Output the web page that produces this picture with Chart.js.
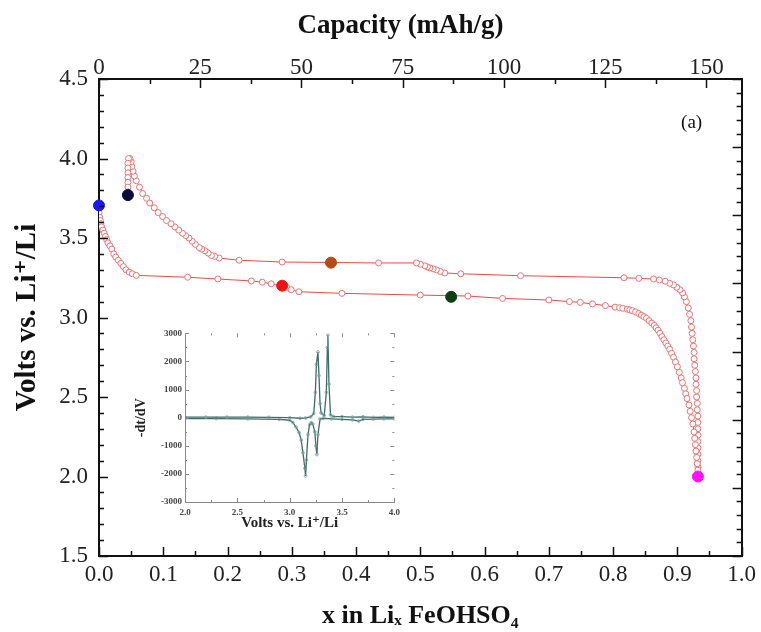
<!DOCTYPE html>
<html>
<head>
<meta charset="utf-8">
<script src="https://cdn.jsdelivr.net/npm/chart.js@4.4.1/dist/chart.umd.min.js"></script>
<style>
  html, body { margin: 0; padding: 0; background: #fff; }
  #wrap { position: relative; width: 761px; height: 632px; }
  #mainChart { position: absolute; left: 0; top: 0; }
  #insetChart { position: absolute; left: 125px; top: 325px; }
</style>
</head>
<body>
<div id="wrap">
  <canvas id="mainChart" width="761" height="632"></canvas>
  <canvas id="insetChart" width="280" height="215"></canvas>
</div>
<script>
const SERIF = '"Liberation Serif", "DejaVu Serif", serif';

// --- Hauptdiagramm: x in LixFeOHSO4 gegen Spannung ---
const CAP_AT_X1 = 158.7; // mAh/g bei x = 1

// Entladung (untere Kurve, von x=0 bis zum magenta Punkt)
const dischargeX = [0.000, 0.001, 0.002, 0.003, 0.004, 0.006, 0.008, 0.010, 0.012, 0.014,
  0.017, 0.020, 0.023, 0.026, 0.030, 0.034, 0.038, 0.042, 0.047, 0.052,
  0.058, 0.138, 0.185, 0.237, 0.254, 0.268, 0.292, 0.299, 0.311, 0.378,
  0.500, 0.574, 0.628, 0.700, 0.732, 0.749, 0.768, 0.788, 0.803, 0.810,
  0.815, 0.822, 0.826, 0.830, 0.835, 0.840, 0.844, 0.848, 0.852, 0.856,
  0.860, 0.864, 0.867, 0.870, 0.873, 0.876, 0.879, 0.882, 0.885, 0.888,
  0.891, 0.894, 0.897, 0.900, 0.903, 0.906, 0.908, 0.911, 0.913, 0.915,
  0.918, 0.920, 0.922, 0.924, 0.926, 0.927, 0.928, 0.929, 0.930, 0.931,
  0.932];
const dischargeV = [3.66, 3.63, 3.61, 3.59, 3.57, 3.55, 3.53, 3.51, 3.49, 3.47,
  3.45, 3.43, 3.40, 3.38, 3.36, 3.34, 3.32, 3.30, 3.285, 3.275,
  3.265, 3.253, 3.242, 3.23, 3.222, 3.212, 3.19, 3.175, 3.162, 3.152,
  3.141, 3.135, 3.12, 3.11, 3.10, 3.095, 3.085, 3.075, 3.065, 3.062,
  3.058, 3.052, 3.048, 3.043, 3.035, 3.025, 3.015, 3.005, 2.995, 2.98,
  2.965, 2.95, 2.935, 2.92, 2.90, 2.88, 2.86, 2.84, 2.82, 2.80,
  2.775, 2.75, 2.72, 2.69, 2.655, 2.62, 2.59, 2.555, 2.52, 2.49,
  2.45, 2.41, 2.37, 2.33, 2.28, 2.24, 2.20, 2.16, 2.12, 2.08,
  2.04];

// Ladung (obere Kurve, vom magenta Punkt zurück bis 4.0 V, dann Relaxation)
const chargeX = [0.932, 0.932, 0.932, 0.932, 0.932, 0.932, 0.932, 0.932, 0.932, 0.932,
  0.931, 0.931, 0.930, 0.930, 0.929, 0.929, 0.928, 0.927, 0.926, 0.926,
  0.925, 0.924, 0.923, 0.922, 0.921, 0.919, 0.917, 0.914, 0.911, 0.908,
  0.904, 0.899, 0.894, 0.888, 0.881, 0.872, 0.863, 0.840, 0.817, 0.656,
  0.563, 0.538, 0.531, 0.525, 0.520, 0.515, 0.511, 0.507, 0.500, 0.494,
  0.435, 0.285, 0.218, 0.187, 0.180, 0.175, 0.170, 0.165, 0.160, 0.156,
  0.150, 0.145, 0.140, 0.135, 0.130, 0.124, 0.118, 0.112, 0.105, 0.099,
  0.092, 0.086, 0.079, 0.074, 0.068, 0.063, 0.058, 0.055, 0.053, 0.051,
  0.050, 0.048, 0.046, 0.045, 0.045, 0.045, 0.045, 0.045, 0.045, 0.045];
const chargeV = [2.02, 2.06, 2.10, 2.14, 2.18, 2.22, 2.26, 2.30, 2.34, 2.38,
  2.42, 2.46, 2.50, 2.54, 2.58, 2.62, 2.66, 2.70, 2.74, 2.78,
  2.82, 2.86, 2.90, 2.94, 2.98, 3.02, 3.06, 3.10, 3.13, 3.155,
  3.175, 3.19, 3.205, 3.215, 3.228, 3.236, 3.242, 3.246, 3.25, 3.263,
  3.275, 3.28, 3.29, 3.30, 3.306, 3.312, 3.318, 3.325, 3.335, 3.343,
  3.343, 3.349, 3.36, 3.374, 3.385, 3.39, 3.405, 3.42, 3.43, 3.44,
  3.46, 3.48, 3.50, 3.515, 3.53, 3.55, 3.57, 3.59, 3.61, 3.635,
  3.66, 3.69, 3.72, 3.75, 3.78, 3.82, 3.86, 3.89, 3.92, 3.95,
  3.98, 4.00, 4.00, 3.97, 3.94, 3.91, 3.88, 3.85, 3.82, 3.79];

// farbige Zustandspunkte
const markX = [0.000, 0.045, 0.361, 0.285, 0.548, 0.932];
const markV = [3.705, 3.77, 3.345, 3.20, 3.13, 2.00];
const markColors = ['#1a1af0', '#0b0b3c', '#b84a14', '#ee1414', '#0e3f14', '#ff10ff'];

// Achsenbeschriftungen
const xTickLabels = ['0.0', '0.1', '0.2', '0.3', '0.4', '0.5', '0.6', '0.7', '0.8', '0.9', '1.0'];
const yTickLabels = ['1.5', '2.0', '2.5', '3.0', '3.5', '4.0', '4.5'];
const capTickLabels = ['0', '25', '50', '75', '100', '125', '150'];

// --- Inset: -dt/dV gegen Spannung ---
const insetChargeV = [2.0, 2.2, 2.4, 2.6, 2.8, 3.0, 3.1, 3.15, 3.2, 3.23,
  3.245, 3.255, 3.27, 3.28, 3.29, 3.30, 3.33, 3.35, 3.36, 3.365,
  3.375, 3.39, 3.42, 3.5, 3.6, 3.7, 3.8, 3.9, 4.0];
const insetChargeD = [20, 20, 20, 20, 10, 0, -20, -10, 30, 150,
  900, 1900, 2340, 1500, 500, 170, 80, 900, 2500, 2950,
  1200, 100, 40, 40, 20, 30, 10, 20, 10];
const insetDischargeV = [2.0, 2.3, 2.6, 2.9, 3.0, 3.03, 3.06, 3.09, 3.11, 3.127,
  3.145, 3.152, 3.16, 3.175, 3.19, 3.206, 3.22, 3.24, 3.25, 3.26,
  3.27, 3.29, 3.32, 3.4, 3.5, 3.6, 3.66, 3.7, 3.8, 3.9, 4.0];
const insetDischargeD = [-30, -30, -40, -60, -90, -170, -330, -530, -800, -1250,
  -1800, -2070, -1500, -600, -250, -180, -220, -500, -1000, -1310,
  -600, -50, -20, -40, -60, -80, -120, -60, -50, -40, -40];

const insetXTickLabels = ['2.0', '2.5', '3.0', '3.5', '4.0'];
const insetYTickLabels = ['-3000', '-2000', '-1000', '0', '1000', '2000', '3000'];

function pts(xs, ys) {
    return xs.map((x, i) => ({ x: x, y: ys[i] }));
}

function labelFrom(list) {
    return (v) => list.find(l => Math.abs(parseFloat(l) - v) < 1e-6) || '';
}

// Ticks nach innen zeichnen
function innerTicks(specs) {
    return {
        id: 'innerTicks',
        afterDraw(chart) {
            const ctx = chart.ctx;
            const a = chart.chartArea;
            ctx.save();
            specs.forEach(s => {
                const sc = chart.scales[s.id];
                ctx.strokeStyle = s.color;
                ctx.lineWidth = s.width;
                const n = Math.floor((s.max - s.min) / s.minor + 1e-6);
                for (let i = 0; i <= n; i++) {
                    const v = s.min + i * s.minor;
                    const q = (v - s.min) / s.major;
                    const isMajor = Math.abs(q - Math.round(q)) < 1e-6;
                    const len = isMajor ? s.majorLen : s.minorLen;
                    const p = Math.round(sc.getPixelForValue(v)) + 0.5;
                    ctx.beginPath();
                    if (s.side === 'left') { ctx.moveTo(a.left, p); ctx.lineTo(a.left + len, p); }
                    else if (s.side === 'right') { ctx.moveTo(a.right, p); ctx.lineTo(a.right - len, p); }
                    else if (s.side === 'top') { ctx.moveTo(p, a.top); ctx.lineTo(p, a.top + len); }
                    else { ctx.moveTo(p, a.bottom); ctx.lineTo(p, a.bottom - len); }
                    ctx.stroke();
                }
            });
            ctx.restore();
        }
    };
}

const panelLabel = {
    id: 'panelLabel',
    afterDraw(chart) {
        const { ctx, chartArea } = chart;
        ctx.save();
        ctx.font = '19px ' + SERIF;
        ctx.fillStyle = '#111';
        ctx.textAlign = 'center';
        ctx.textBaseline = 'middle';
        ctx.fillText('(a)', chartArea.right - 50, chartArea.top + 44);
        ctx.restore();
    }
};

const tickFont = { family: SERIF, size: 23 };
const axisBorder = { display: true, color: '#111', width: 2 };
const curveStyle = {
    showLine: true,
    borderColor: '#f04848',
    borderWidth: 1,
    pointRadius: 3,
    pointBorderWidth: 1,
    pointBorderColor: '#f07272',
    pointBackgroundColor: '#ffffff'
};

new Chart(document.getElementById('mainChart'), {
    type: 'scatter',
    data: {
        datasets: [
            {
                label: 'Zustände',
                data: pts(markX, markV),
                showLine: false,
                clip: false,
                pointRadius: 5.5,
                pointBackgroundColor: markColors,
                pointBorderColor: markColors,
                order: 0
            },
            Object.assign({ label: 'Entladung', data: pts(dischargeX, dischargeV), order: 1 }, curveStyle),
            Object.assign({ label: 'Ladung', data: pts(chargeX, chargeV), order: 2 }, curveStyle)
        ]
    },
    options: {
        responsive: false,
        animation: false,
        layout: { padding: { left: 40, right: 0, top: 0, bottom: 0 } },
        plugins: {
            legend: { display: false },
            tooltip: { enabled: false },
            title: {
                display: true,
                text: 'Capacity (mAh/g)',
                color: '#111',
                font: { family: SERIF, size: 27, weight: 'bold' },
                padding: { top: 10, bottom: 0 }
            }
        },
        scales: {
            x: {
                type: 'linear', position: 'bottom', min: 0, max: 1,
                ticks: { stepSize: 0.1, padding: 5, autoSkip: false, maxRotation: 0, color: '#222', font: tickFont, callback: labelFrom(xTickLabels) },
                grid: { display: false, drawTicks: false },
                border: axisBorder,
                title: { display: true, text: 'x in Liₓ FeOHSO₄', color: '#111', font: { family: SERIF, size: 26, weight: 'bold' }, padding: { top: 0, bottom: 0 } },
                afterFit: (s) => { s.height = 76; }
            },
            x2: {
                type: 'linear', position: 'top', min: 0, max: CAP_AT_X1,
                ticks: { stepSize: 25, includeBounds: false, padding: -3, autoSkip: false, maxRotation: 0, color: '#222', font: tickFont, callback: labelFrom(capTickLabels) },
                grid: { display: false, drawTicks: false },
                border: axisBorder,
                afterFit: (s) => { s.height = 79 - 42.4; }
            },
            y: {
                type: 'linear', position: 'left', min: 1.5, max: 4.5,
                ticks: { stepSize: 0.5, padding: 11, autoSkip: false, color: '#222', font: tickFont, callback: labelFrom(yTickLabels) },
                grid: { display: false, drawTicks: false },
                border: axisBorder,
                title: { display: true, text: 'Volts vs. Li⁺/Li', color: '#111', font: { family: SERIF, size: 29, weight: 'bold' }, padding: { top: -30, bottom: 0 } },
                afterFit: (s) => { s.width = 59; }
            },
            y2: {
                type: 'linear', position: 'right', min: 0, max: 7,
                ticks: { display: false },
                grid: { display: false, drawTicks: false },
                border: axisBorder,
                afterFit: (s) => { s.width = 16; }
            }
        }
    },
    plugins: [
        innerTicks([
            { id: 'y', side: 'left', min: 1.5, max: 4.5, major: 0.5, minor: 0.1, majorLen: 9, minorLen: 5, color: '#111', width: 1.5 },
            { id: 'y2', side: 'right', min: 0, max: 7, major: 1, minor: 0.2, majorLen: 9, minorLen: 5, color: '#111', width: 1.5 },
            { id: 'x', side: 'bottom', min: 0, max: 1, major: 0.1, minor: 0.05, majorLen: 9, minorLen: 5, color: '#111', width: 1.5 },
            { id: 'x2', side: 'top', min: 0, max: CAP_AT_X1, major: 25, minor: 12.5, majorLen: 9, minorLen: 5, color: '#111', width: 1.5 }
        ]),
        panelLabel
    ]
});

// --- Inset ---
const insetTickFont = { family: SERIF, size: 9, weight: 'bold' };
const insetBorder = { display: true, color: '#8a8a8a', width: 1 };
const insetCurveStyle = {
    showLine: true,
    borderColor: '#3d6d67',
    borderWidth: 1.3,
    pointRadius: 1.4,
    pointBorderWidth: 0.8,
    pointBorderColor: '#7aa09b',
    pointBackgroundColor: 'rgba(255,255,255,0)'
};

new Chart(document.getElementById('insetChart'), {
    type: 'scatter',
    data: {
        datasets: [
            Object.assign({ label: 'Ladung', data: pts(insetChargeV, insetChargeD) }, insetCurveStyle),
            Object.assign({ label: 'Entladung', data: pts(insetDischargeV, insetDischargeD) }, insetCurveStyle)
        ]
    },
    options: {
        responsive: false,
        animation: false,
        layout: { padding: { left: 0, right: 10, top: 8, bottom: 0 } },
        plugins: { legend: { display: false }, tooltip: { enabled: false } },
        scales: {
            x: {
                type: 'linear', position: 'bottom', min: 2, max: 4,
                ticks: { stepSize: 0.5, padding: 5, autoSkip: false, maxRotation: 0, color: '#444', font: insetTickFont, callback: labelFrom(insetXTickLabels) },
                grid: { display: false, drawTicks: false },
                border: insetBorder,
                title: { display: true, text: 'Volts vs. Li⁺/Li', color: '#222', font: { family: SERIF, size: 15, weight: 'bold' }, padding: { top: 0, bottom: 8 } },
                afterFit: (s) => { s.height = 38; }
            },
            y: {
                type: 'linear', position: 'left', min: -3000, max: 3000,
                ticks: { stepSize: 1000, padding: 3, autoSkip: false, color: '#444', font: insetTickFont, callback: labelFrom(insetYTickLabels) },
                grid: { display: false, drawTicks: false },
                border: insetBorder,
                title: { display: true, text: '-dt/dV', color: '#222', font: { family: SERIF, size: 14, weight: 'bold' }, padding: { top: 7.6, bottom: 0 } },
                afterFit: (s) => { s.width = 60; }
            }
        }
    },
    plugins: [
        innerTicks([
            { id: 'x', side: 'bottom', min: 2, max: 4, major: 0.5, minor: 0.25, majorLen: 4, minorLen: 2, color: '#8a8a8a', width: 1 },
            { id: 'x', side: 'top', min: 2, max: 4, major: 0.5, minor: 0.25, majorLen: 4, minorLen: 2, color: '#8a8a8a', width: 1 },
            { id: 'y', side: 'left', min: -3000, max: 3000, major: 1000, minor: 500, majorLen: 4, minorLen: 2, color: '#8a8a8a', width: 1 },
            { id: 'y', side: 'right', min: -3000, max: 3000, major: 1000, minor: 500, majorLen: 4, minorLen: 2, color: '#8a8a8a', width: 1 }
        ])
    ]
});
</script>
</body>
</html>
